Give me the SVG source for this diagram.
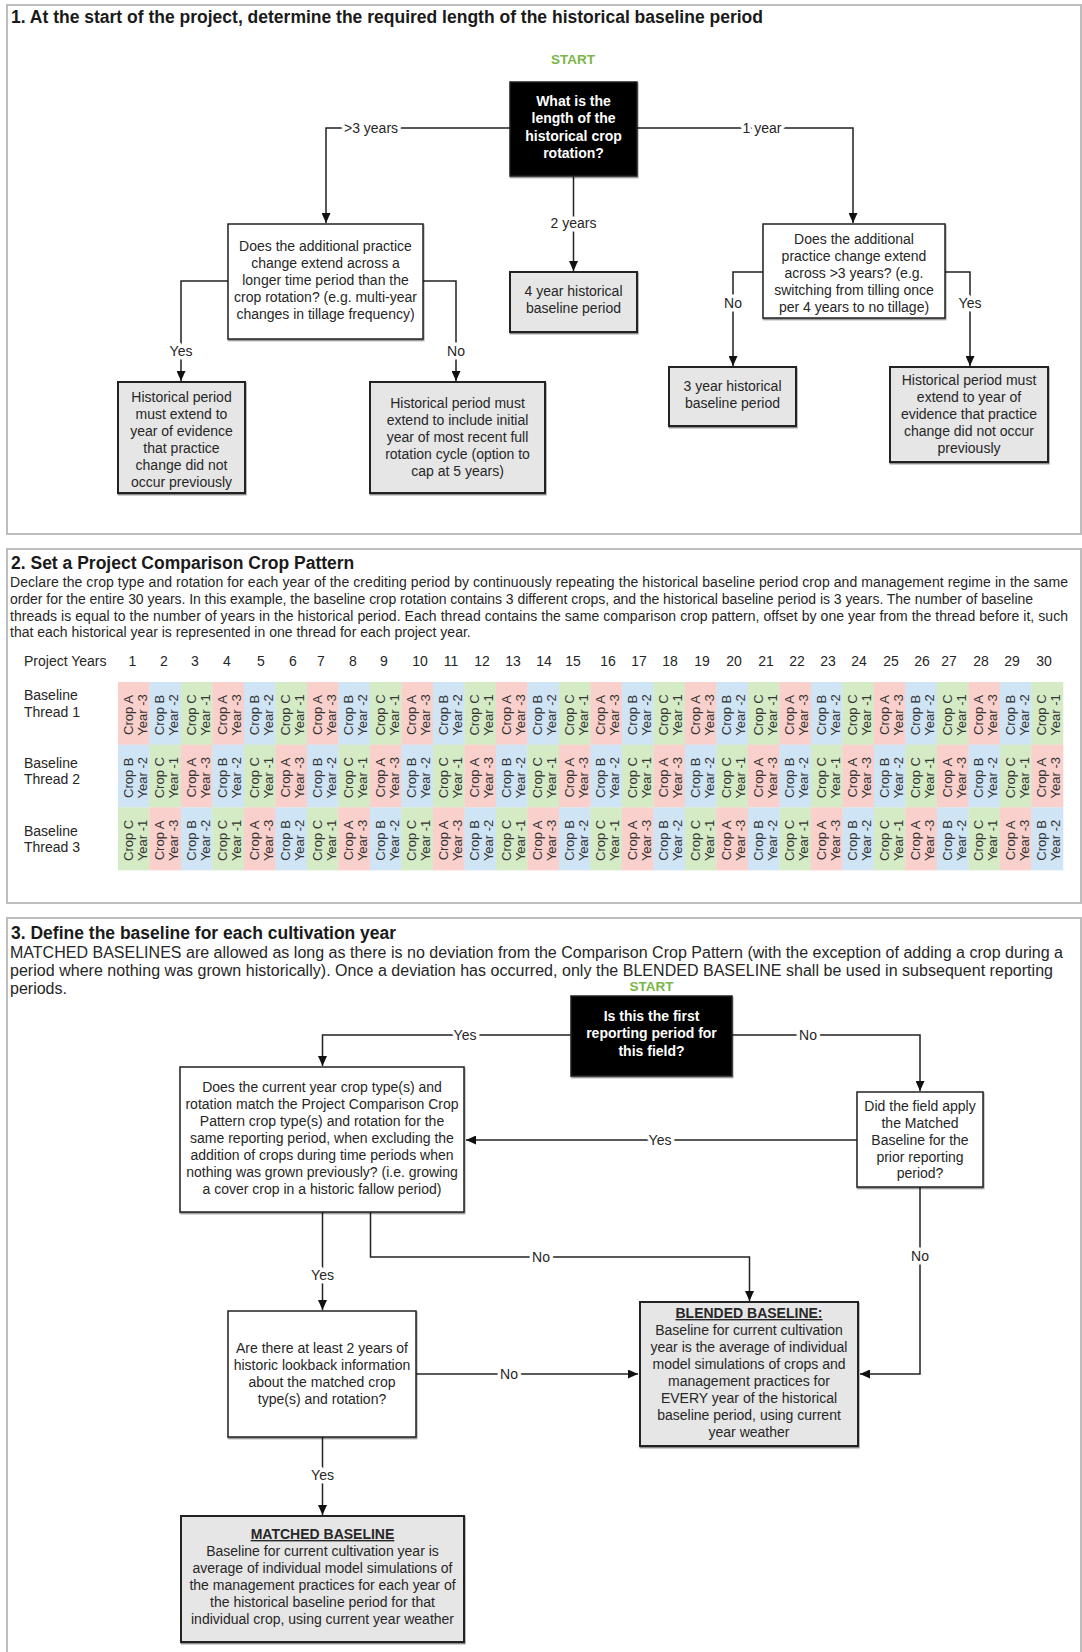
<svg xmlns="http://www.w3.org/2000/svg" xmlns:xlink="http://www.w3.org/1999/xlink" width="1082" height="1652" viewBox="0 0 1082 1652">
  <style>
    text { font-family: "Liberation Sans", Arial, Helvetica, sans-serif; }
    .frame { fill: none; stroke: #bdbdbd; stroke-width: 2; }
    .h { font-size: 17.5px; font-weight: bold; fill: #1a1a1a; }
    .p14 { font-size: 14px; fill: #262626; }
    .p16 { font-size: 16px; fill: #262626; }
    .start { font-size: 13.5px; font-weight: bold; fill: #7ab648; text-anchor: middle; }
    .box { fill: #ffffff; stroke: #222; stroke-width: 1.5; filter: url(#sh); }
    .gbox { fill: #e6e6e6; stroke: #222; stroke-width: 2; filter: url(#sh); }
    .dark { fill: #000000; stroke: #222; stroke-width: 1.5; filter: url(#sh); }
    .bt { font-size: 14px; fill: #262626; text-anchor: middle; }
    .wt { font-size: 14px; font-weight: bold; fill: #ffffff; text-anchor: middle; }
    .ul { font-weight: bold; text-decoration: underline; }
    .edge { fill: none; stroke: #222; stroke-width: 1.5; marker-end: url(#ah); }
    .lbl { font-size: 14px; fill: #262626; text-anchor: middle; stroke: #ffffff; stroke-width: 7; paint-order: stroke; stroke-linejoin: round; }
    .yr { font-size: 14px; fill: #262626; text-anchor: middle; }
    .ct { font-size: 13px; fill: #333333; text-anchor: middle; }
  </style>
  <defs>
    <filter id="sh" x="-5%" y="-5%" width="112%" height="115%">
      <feDropShadow dx="0.6" dy="1.4" stdDeviation="0.7" flood-color="#000" flood-opacity="0.45"/>
    </filter>
    <marker id="ah" markerUnits="userSpaceOnUse" markerWidth="10" markerHeight="9" refX="10" refY="4.5" orient="auto">
      <path d="M0,0 L10,4.5 L0,9 z" fill="#111"/>
    </marker>
    <!-- crop cells: pink = crop A, blue = crop B, green = crop C -->
    <g id="cA">
      <rect width="31.8" height="62.9" fill="#f9d0cb"/>
      <g transform="translate(15.75,33) rotate(-90)"><text class="ct" y="-1.25">Crop A</text><text class="ct" y="12.75">Year -3</text></g>
    </g>
    <g id="cB">
      <rect width="31.8" height="62.9" fill="#cfe4f4"/>
      <g transform="translate(15.75,33) rotate(-90)"><text class="ct" y="-1.25">Crop B</text><text class="ct" y="12.75">Year -2</text></g>
    </g>
    <g id="cC">
      <rect width="31.8" height="62.9" fill="#d5ebc6"/>
      <g transform="translate(15.75,33) rotate(-90)"><text class="ct" y="-1.25">Crop C</text><text class="ct" y="12.75">Year -1</text></g>
    </g>
    <!-- three project years across the three baseline threads -->
    <g id="tri">
      <use xlink:href="#cA" x="0" y="0"/><use xlink:href="#cB" x="31.5" y="0"/><use xlink:href="#cC" x="63" y="0"/>
      <use xlink:href="#cB" x="0" y="62.7"/><use xlink:href="#cC" x="31.5" y="62.7"/><use xlink:href="#cA" x="63" y="62.7"/>
      <use xlink:href="#cC" x="0" y="125.4"/><use xlink:href="#cA" x="31.5" y="125.4"/><use xlink:href="#cB" x="63" y="125.4"/>
    </g>
  </defs>

  <rect width="1082" height="1652" fill="#ffffff"/>

  <!-- ===== Section frames ===== -->
  <rect class="frame" x="7" y="5" width="1074" height="529"/>
  <rect class="frame" x="7" y="549" width="1074" height="354"/>
  <rect class="frame" x="7" y="918" width="1074" height="760"/>

  <!-- ===== Section 1 ===== -->
  <text class="h" x="11" y="23">1. At the start of the project, determine the required length of the historical baseline period</text>
  <text class="start" x="573" y="64">START</text>

  <g id="connectors-1">
    <path class="edge" d="M510,128 H326 V223"/>
    <path class="edge" d="M637,128 H853 V223"/>
    <path class="edge" d="M573.5,176 V271"/>
    <path class="edge" d="M228,281 H181 V381"/>
    <path class="edge" d="M423,281 H456 V381"/>
    <path class="edge" d="M763,272 H733 V366"/>
    <path class="edge" d="M945,272 H970 V366"/>
    <text class="lbl" x="371" y="133">&gt;3 years</text>
    <text class="lbl" x="762" y="133">1 year</text>
    <text class="lbl" x="573.5" y="228">2 years</text>
    <text class="lbl" x="181" y="356">Yes</text>
    <text class="lbl" x="456" y="356">No</text>
    <text class="lbl" x="733" y="308">No</text>
    <text class="lbl" x="970" y="308">Yes</text>
  </g>

  <g id="q-rotation-length">
    <rect class="dark" x="510" y="82" width="127" height="94"/>
    <text class="wt" x="573.5" y="106">What is the</text>
    <text class="wt" x="573.5" y="123">length of the</text>
    <text class="wt" x="573.5" y="141">historical crop</text>
    <text class="wt" x="573.5" y="158">rotation?</text>
  </g>

  <g id="q-longer-change">
    <rect class="box" x="228" y="224" width="195" height="115"/>
    <text class="bt" x="325.5" y="251">Does the additional practice</text>
    <text class="bt" x="325.5" y="268">change extend across a</text>
    <text class="bt" x="325.5" y="285">longer time period than the</text>
    <text class="bt" x="325.5" y="302">crop rotation? (e.g. multi-year</text>
    <text class="bt" x="325.5" y="319">changes in tillage frequency)</text>
  </g>

  <g id="r-evidence-left">
    <rect class="gbox" x="118" y="382" width="127" height="111"/>
    <text class="bt" x="181.5" y="402">Historical period</text>
    <text class="bt" x="181.5" y="419">must extend to</text>
    <text class="bt" x="181.5" y="436">year of evidence</text>
    <text class="bt" x="181.5" y="453">that practice</text>
    <text class="bt" x="181.5" y="470">change did not</text>
    <text class="bt" x="181.5" y="487">occur previously</text>
  </g>

  <g id="r-full-cycle">
    <rect class="gbox" x="370" y="382" width="175" height="111"/>
    <text class="bt" x="457.5" y="408">Historical period must</text>
    <text class="bt" x="457.5" y="425">extend to include initial</text>
    <text class="bt" x="457.5" y="442">year of most recent full</text>
    <text class="bt" x="457.5" y="459">rotation cycle (option to</text>
    <text class="bt" x="457.5" y="476">cap at 5 years)</text>
  </g>

  <g id="r-four-year">
    <rect class="gbox" x="510" y="272" width="127" height="60"/>
    <text class="bt" x="573.5" y="296">4 year historical</text>
    <text class="bt" x="573.5" y="313">baseline period</text>
  </g>

  <g id="q-over-three">
    <rect class="box" x="763" y="224" width="182" height="94"/>
    <text class="bt" x="854" y="244">Does the additional</text>
    <text class="bt" x="854" y="261">practice change extend</text>
    <text class="bt" x="854" y="278">across &gt;3 years? (e.g.</text>
    <text class="bt" x="854" y="295">switching from tilling once</text>
    <text class="bt" x="854" y="312">per 4 years to no tillage)</text>
  </g>

  <g id="r-three-year">
    <rect class="gbox" x="669" y="367" width="127" height="59"/>
    <text class="bt" x="732.5" y="391">3 year historical</text>
    <text class="bt" x="732.5" y="408">baseline period</text>
  </g>

  <g id="r-evidence-right">
    <rect class="gbox" x="890" y="367" width="158" height="95"/>
    <text class="bt" x="969" y="385">Historical period must</text>
    <text class="bt" x="969" y="402">extend to year of</text>
    <text class="bt" x="969" y="419">evidence that practice</text>
    <text class="bt" x="969" y="436">change did not occur</text>
    <text class="bt" x="969" y="453">previously</text>
  </g>

  <!-- ===== Section 2 ===== -->
  <text class="h" x="11" y="569">2. Set a Project Comparison Crop Pattern</text>
  <text class="p14" x="10" y="587" textLength="1058" lengthAdjust="spacing">Declare the crop type and rotation for each year of the crediting period by continuously repeating the historical baseline period crop and management regime in the same</text>
  <text class="p14" x="10" y="604" textLength="1023" lengthAdjust="spacing">order for the entire 30 years. In this example, the baseline crop rotation contains 3 different crops, and the historical baseline period is 3 years. The number of baseline</text>
  <text class="p14" x="10" y="620.5" textLength="1058" lengthAdjust="spacing">threads is equal to the number of years in the historical period. Each thread contains the same comparison crop pattern, offset by one year from the thread before it, such</text>
  <text class="p14" x="10" y="637">that each historical year is represented in one thread for each project year.</text>

  <g id="project-years">
    <text class="p14" x="24" y="666">Project Years</text>
    <text class="yr" x="132.5" y="666">1</text>
    <text class="yr" x="164" y="666">2</text>
    <text class="yr" x="195" y="666">3</text>
    <text class="yr" x="227" y="666">4</text>
    <text class="yr" x="261" y="666">5</text>
    <text class="yr" x="293" y="666">6</text>
    <text class="yr" x="321" y="666">7</text>
    <text class="yr" x="353" y="666">8</text>
    <text class="yr" x="384" y="666">9</text>
    <text class="yr" x="420" y="666">10</text>
    <text class="yr" x="451" y="666">11</text>
    <text class="yr" x="482" y="666">12</text>
    <text class="yr" x="513" y="666">13</text>
    <text class="yr" x="544" y="666">14</text>
    <text class="yr" x="573" y="666">15</text>
    <text class="yr" x="608" y="666">16</text>
    <text class="yr" x="639" y="666">17</text>
    <text class="yr" x="670" y="666">18</text>
    <text class="yr" x="702" y="666">19</text>
    <text class="yr" x="734" y="666">20</text>
    <text class="yr" x="766" y="666">21</text>
    <text class="yr" x="797" y="666">22</text>
    <text class="yr" x="828" y="666">23</text>
    <text class="yr" x="859" y="666">24</text>
    <text class="yr" x="891" y="666">25</text>
    <text class="yr" x="922" y="666">26</text>
    <text class="yr" x="949" y="666">27</text>
    <text class="yr" x="981" y="666">28</text>
    <text class="yr" x="1012" y="666">29</text>
    <text class="yr" x="1044" y="666">30</text>
  </g>

  <g id="thread-labels">
    <text class="p14" x="24" y="700">Baseline</text>
    <text class="p14" x="24" y="717">Thread 1</text>
    <text class="p14" x="24" y="768">Baseline</text>
    <text class="p14" x="24" y="784">Thread 2</text>
    <text class="p14" x="24" y="836">Baseline</text>
    <text class="p14" x="24" y="852">Thread 3</text>
  </g>

  <g id="crop-grid">
    <use xlink:href="#tri" x="118" y="682"/>
    <use xlink:href="#tri" x="212.5" y="682"/>
    <use xlink:href="#tri" x="307" y="682"/>
    <use xlink:href="#tri" x="401.5" y="682"/>
    <use xlink:href="#tri" x="496" y="682"/>
    <use xlink:href="#tri" x="590.5" y="682"/>
    <use xlink:href="#tri" x="685" y="682"/>
    <use xlink:href="#tri" x="779.5" y="682"/>
    <use xlink:href="#tri" x="874" y="682"/>
    <use xlink:href="#tri" x="968.5" y="682"/>
  </g>

  <!-- ===== Section 3 ===== -->
  <text class="h" x="11" y="939">3. Define the baseline for each cultivation year</text>
  <text class="p16" x="10" y="958" textLength="1053" lengthAdjust="spacing">MATCHED BASELINES are allowed as long as there is no deviation from the Comparison Crop Pattern (with the exception of adding a crop during a</text>
  <text class="p16" x="10" y="976" textLength="1043" lengthAdjust="spacing">period where nothing was grown historically). Once a deviation has occurred, only the BLENDED BASELINE shall be used in subsequent reporting</text>
  <text class="p16" x="10" y="994">periods.</text>
  <text class="start" x="651.5" y="991">START</text>

  <g id="connectors-3">
    <path class="edge" d="M571,1035 H322.5 V1066"/>
    <path class="edge" d="M732,1035 H920 V1091"/>
    <path class="edge" d="M857,1140 H466"/>
    <path class="edge" d="M322.5,1212 V1310"/>
    <path class="edge" d="M370.5,1212 V1257 H749.5 V1301"/>
    <path class="edge" d="M920,1187 V1374 H860"/>
    <path class="edge" d="M416,1374 H638"/>
    <path class="edge" d="M322.5,1437 V1515"/>
    <text class="lbl" x="465" y="1040">Yes</text>
    <text class="lbl" x="808" y="1040">No</text>
    <text class="lbl" x="660" y="1145">Yes</text>
    <text class="lbl" x="322.5" y="1280">Yes</text>
    <text class="lbl" x="541" y="1262">No</text>
    <text class="lbl" x="920" y="1261">No</text>
    <text class="lbl" x="509" y="1379">No</text>
    <text class="lbl" x="322.5" y="1480">Yes</text>
  </g>

  <g id="q-first-period">
    <rect class="dark" x="571" y="996" width="161" height="80"/>
    <text class="wt" x="651.5" y="1021">Is this the first</text>
    <text class="wt" x="651.5" y="1038">reporting period for</text>
    <text class="wt" x="651.5" y="1056">this field?</text>
  </g>

  <g id="q-pattern-match">
    <rect class="box" x="180" y="1067" width="284" height="145"/>
    <text class="bt" x="322" y="1092">Does the current year crop type(s) and</text>
    <text class="bt" x="322" y="1109">rotation match the Project Comparison Crop</text>
    <text class="bt" x="322" y="1126">Pattern crop type(s) and rotation for the</text>
    <text class="bt" x="322" y="1143">same reporting period, when excluding the</text>
    <text class="bt" x="322" y="1160">addition of crops during time periods when</text>
    <text class="bt" x="322" y="1177">nothing was grown previously? (i.e. growing</text>
    <text class="bt" x="322" y="1194">a cover crop in a historic fallow period)</text>
  </g>

  <g id="q-prior-matched">
    <rect class="box" x="857" y="1092" width="126" height="95"/>
    <text class="bt" x="920" y="1111">Did the field apply</text>
    <text class="bt" x="920" y="1128">the Matched</text>
    <text class="bt" x="920" y="1145">Baseline for the</text>
    <text class="bt" x="920" y="1162">prior reporting</text>
    <text class="bt" x="920" y="1178">period?</text>
  </g>

  <g id="q-lookback">
    <rect class="box" x="228" y="1311" width="188" height="126"/>
    <text class="bt" x="322" y="1353">Are there at least 2 years of</text>
    <text class="bt" x="322" y="1370">historic lookback information</text>
    <text class="bt" x="322" y="1387">about the matched crop</text>
    <text class="bt" x="322" y="1404">type(s) and rotation?</text>
  </g>

  <g id="r-blended">
    <rect class="gbox" x="640" y="1302" width="218" height="144"/>
    <text class="bt ul" x="749" y="1318">BLENDED BASELINE:</text>
    <text class="bt" x="749" y="1335">Baseline for current cultivation</text>
    <text class="bt" x="749" y="1352">year is the average of individual</text>
    <text class="bt" x="749" y="1369">model simulations of crops and</text>
    <text class="bt" x="749" y="1386">management practices for</text>
    <text class="bt" x="749" y="1403">EVERY year of the historical</text>
    <text class="bt" x="749" y="1420">baseline period, using current</text>
    <text class="bt" x="749" y="1437">year weather</text>
  </g>

  <g id="r-matched">
    <rect class="gbox" x="181" y="1516" width="283" height="126"/>
    <text class="bt ul" x="322.5" y="1539">MATCHED BASELINE</text>
    <text class="bt" x="322.5" y="1556">Baseline for current cultivation year is</text>
    <text class="bt" x="322.5" y="1573">average of individual model simulations of</text>
    <text class="bt" x="322.5" y="1590">the management practices for each year of</text>
    <text class="bt" x="322.5" y="1607">the historical baseline period for that</text>
    <text class="bt" x="322.5" y="1624">individual crop, using current year weather</text>
  </g>
</svg>
